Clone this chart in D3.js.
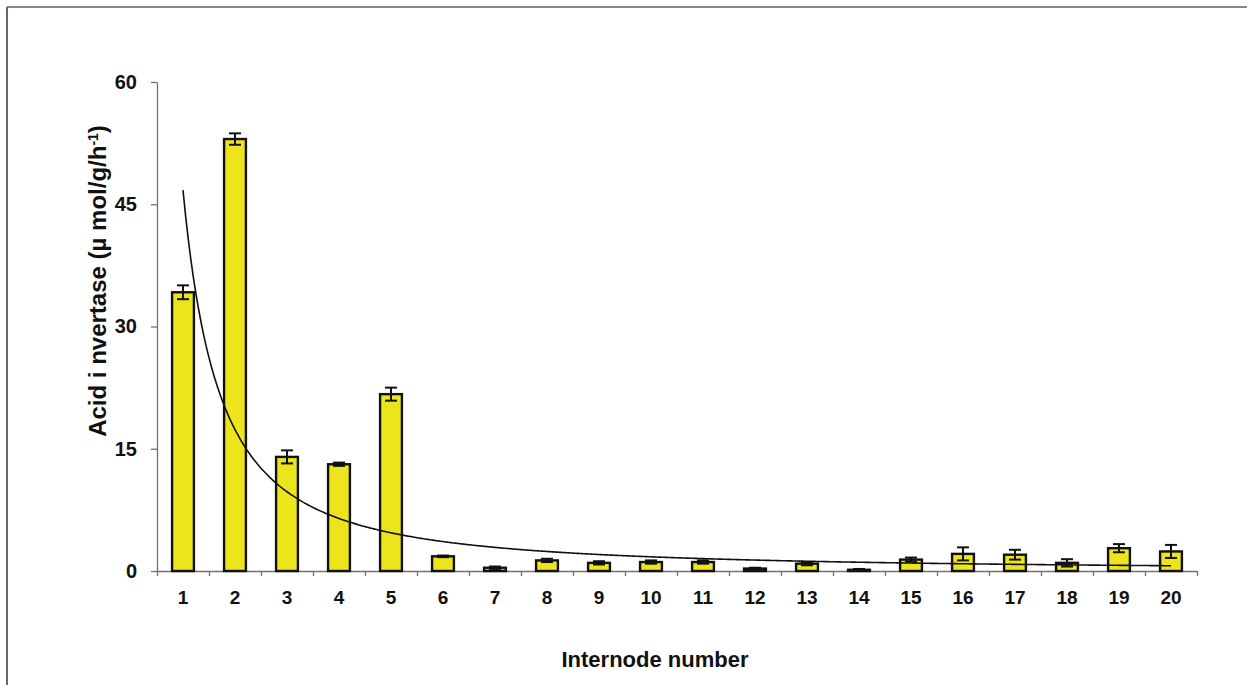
<!DOCTYPE html>
<html>
<head>
<meta charset="utf-8">
<script src="https://cdn.jsdelivr.net/npm/d3@7"></script>
<style>
  html, body { margin: 0; padding: 0; background: #fff; }
  svg { display: block; }
  text { font-family: "Liberation Sans", Arial, sans-serif; font-weight: bold; fill: #111; }
</style>
</head>
<body>
<svg id="chart" width="1247" height="685"></svg>
<script>
// Acid invertase activity along the stalk, internodes 1–20
const internodes = ["1","2","3","4","5","6","7","8","9","10","11","12","13","14","15","16","17","18","19","20"];
const activity   = [34.2, 53.0, 14.0, 13.1, 21.7, 1.8, 0.4, 1.3, 1.0, 1.1, 1.1, 0.3, 0.9, 0.15, 1.4, 2.1, 2.0, 1.0, 2.8, 2.4];
const stdError   = [0.85, 0.7, 0.8, 0.2, 0.8, 0.1, 0.15, 0.2, 0.2, 0.2, 0.2, 0.1, 0.2, 0.1, 0.25, 0.8, 0.6, 0.45, 0.5, 0.8];
const yTicks     = [0, 15, 30, 45, 60];

const svg = d3.select("#chart");
const W = 1247, H = 685;
const plot = { left: 157, right: 1197, top: 82, bottom: 571 };

// outer frame (top and left edges)
svg.append("line").attr("x1", 7).attr("x2", W).attr("y1", 7).attr("y2", 7)
  .attr("stroke", "#8a8580").attr("stroke-width", 2);
svg.append("line").attr("x1", 7).attr("x2", 7).attr("y1", 7).attr("y2", H)
  .attr("stroke", "#6e6662").attr("stroke-width", 2);

const x = d3.scaleBand().domain(internodes)
  .range([plot.left, plot.right]).paddingInner(0.58).paddingOuter(0.29);
const xEdge = d3.scaleLinear().domain([0, internodes.length]).range([plot.left, plot.right]);
const y = d3.scaleLinear().domain([0, 60]).range([plot.bottom, plot.top]);

const axisColor = "#7a6e68";

// y axis
const gy = svg.append("g").attr("transform", `translate(${plot.left},0)`)
  .call(d3.axisLeft(y).tickValues(yTicks).tickSize(6).tickPadding(14).tickSizeOuter(0));
gy.select(".domain").attr("stroke", axisColor).attr("stroke-width", 1.3);
gy.selectAll(".tick line").attr("stroke", axisColor).attr("stroke-width", 1.3);
gy.selectAll(".tick text").style("font-size", "20px").style("font-family", "Liberation Sans, Arial, sans-serif")
  .style("font-weight", "bold").attr("fill", "#111");

// x axis: boundary ticks
const gxTicks = svg.append("g").attr("transform", `translate(0,${plot.bottom})`)
  .call(d3.axisBottom(xEdge).tickValues(d3.range(0, internodes.length + 1)).tickFormat("").tickSize(5).tickSizeOuter(0));
gxTicks.select(".domain").attr("stroke", axisColor).attr("stroke-width", 1.3);
gxTicks.selectAll(".tick line").attr("stroke", axisColor).attr("stroke-width", 1.3);

// x axis: category labels
const gxLabels = svg.append("g").attr("transform", `translate(0,${plot.bottom})`)
  .call(d3.axisBottom(x).tickSize(0).tickPadding(20));
gxLabels.select(".domain").remove();
gxLabels.selectAll(".tick text").style("font-size", "19px").style("font-family", "Liberation Sans, Arial, sans-serif")
  .style("font-weight", "bold").attr("fill", "#111");

// bars
svg.append("g").selectAll("rect").data(activity).join("rect")
  .attr("x", (d, i) => x(internodes[i]))
  .attr("y", d => y(d))
  .attr("width", x.bandwidth())
  .attr("height", d => y(0) - y(d))
  .attr("fill", "#ece51c")
  .attr("stroke", "#111")
  .attr("stroke-width", 2.4);

// error bars
const eb = svg.append("g").attr("stroke", "#111").attr("stroke-width", 2);
activity.forEach((v, i) => {
  const cx = x(internodes[i]) + x.bandwidth() / 2;
  const lo = y(v - stdError[i]), hi = y(v + stdError[i]);
  eb.append("line").attr("x1", cx).attr("x2", cx).attr("y1", lo).attr("y2", hi);
  eb.append("line").attr("x1", cx - 6).attr("x2", cx + 6).attr("y1", lo).attr("y2", lo);
  eb.append("line").attr("x1", cx - 6).attr("x2", cx + 6).attr("y1", hi).attr("y2", hi);
});

// power trendline y = a·x^b, least squares on ln–ln values
const lx = activity.map((_, i) => Math.log(i + 1));
const ly = activity.map(v => Math.log(v));
const mx = d3.mean(lx), my = d3.mean(ly);
const b = d3.sum(lx, (v, i) => (v - mx) * (ly[i] - my)) / d3.sum(lx, v => (v - mx) * (v - mx));
const a = Math.exp(my - b * mx);
const fitPts = d3.range(1, internodes.length + 0.001, 0.05).map(n => [n, a * Math.pow(n, b)]);
const xPos = n => x(internodes[0]) + x.bandwidth() / 2 + (n - 1) * x.step();
svg.append("path").datum(fitPts)
  .attr("fill", "none").attr("stroke", "#111").attr("stroke-width", 1.6)
  .attr("d", d3.line().x(d => xPos(d[0])).y(d => y(d[1])).curve(d3.curveMonotoneX));

// axis titles
svg.append("text").attr("x", 655).attr("y", 667).attr("text-anchor", "middle")
  .style("font-size", "22px").text("Internode number");

const yt = svg.append("text").attr("transform", "translate(106,281) rotate(-90)")
  .attr("text-anchor", "middle").style("font-size", "24px");
yt.append("tspan").text("Acid i nvertase (µ mol/g/h");
yt.append("tspan").attr("dy", -8).style("font-size", "14px").text("-1");
yt.append("tspan").attr("dy", 8).text(")");
</script>
</body>
</html>
